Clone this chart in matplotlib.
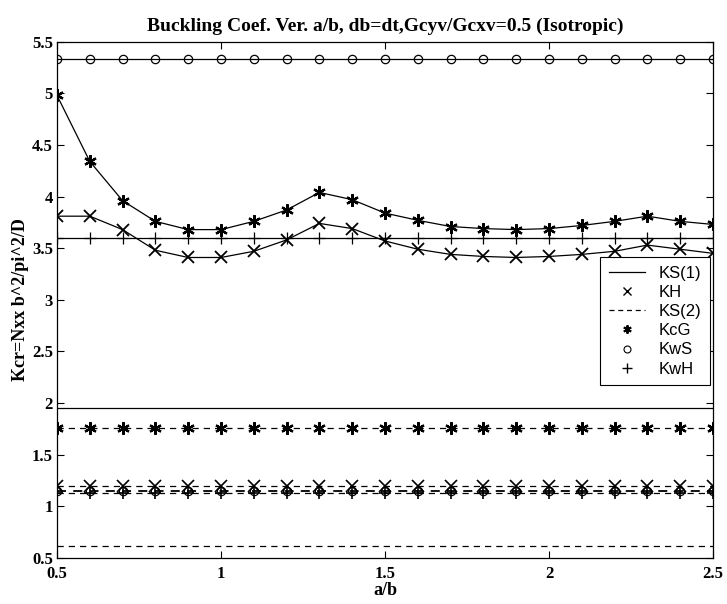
import numpy as np
import matplotlib
matplotlib.use("Agg")
import matplotlib.pyplot as plt
from matplotlib.lines import Line2D

# a/b ratios
ab = [0.5, 0.6, 0.7, 0.8, 0.9, 1.0, 1.1, 1.2, 1.3, 1.4, 1.5,
      1.6, 1.7, 1.8, 1.9, 2.0, 2.1, 2.2, 2.3, 2.4, 2.5]

# case 1 (solid lines)
kcg_1 = [4.98, 4.34, 3.96, 3.76, 3.68, 3.68, 3.76, 3.87, 4.04, 3.97, 3.84,
         3.77, 3.71, 3.69, 3.68, 3.69, 3.72, 3.76, 3.81, 3.76, 3.73]
kh_1 = [3.81, 3.81, 3.68, 3.48, 3.41, 3.41, 3.47, 3.58, 3.74, 3.69, 3.57,
        3.49, 3.44, 3.42, 3.41, 3.42, 3.44, 3.47, 3.53, 3.49, 3.45]
kws_1 = 5.33
kwh_1 = 3.60
ks_1 = 1.95

# case 2 (dashed lines)
kcg_2 = 1.76
kh_2 = 1.20
kws_2 = 1.145
kwh_2 = 1.13
ks_2 = 0.62

legend_labels = ['KS(1)', 'KH', 'KS(2)', 'KcG', 'KwS', 'KwH']

serif = 'Liberation Serif'
asterisk = (6, 2, 0)

fig = plt.figure(figsize=(7.27, 6.04), dpi=100)
ax = fig.add_axes([0.0784, 0.0762, 0.9023, 0.8548])

x = np.array(ab)
lw = 0.9
mk = dict(color='black', markerfacecolor='none', markeredgecolor='black')

# solid group
ax.plot(x, np.full_like(x, kws_1), '-', marker='o', ms=6, lw=lw, mew=0.9, **mk)
ax.plot(x, kcg_1, '-', marker=asterisk, ms=9, lw=lw, mew=1.6, **mk)
ax.plot(x, kh_1, '-', marker='x', ms=8, lw=lw, mew=1.3, **mk)
ax.plot(x, np.full_like(x, kwh_1), '-', marker='+', ms=8, lw=lw, mew=0.9, **mk)
ax.plot(x, np.full_like(x, ks_1), '-', lw=lw, color='black')

# dashed group
dash = (0, (5, 4))
ax.plot(x, np.full_like(x, kcg_2), linestyle=dash, marker=asterisk, ms=9, lw=lw, mew=1.6, **mk)
ax.plot(x, np.full_like(x, kh_2), linestyle=dash, marker='x', ms=8, lw=lw, mew=1.2, **mk)
ax.plot(x, np.full_like(x, kws_2), linestyle=dash, marker='o', ms=6, lw=1.3, mew=0.9, **mk)
ax.plot(x, np.full_like(x, kwh_2), linestyle=dash, marker='+', ms=8, lw=lw, mew=1.2, **mk)
ax.plot(x, np.full_like(x, ks_2), linestyle=dash, lw=lw, color='black')

ax.set_xlim(0.5, 2.5)
ax.set_ylim(0.5, 5.5)
ax.set_xticks([0.5, 1, 1.5, 2, 2.5])
ax.set_xticklabels(['0.5', '1', '1.5', '2', '2.5'])
ax.set_yticks([0.5, 1, 1.5, 2, 2.5, 3, 3.5, 4, 4.5, 5, 5.5])
ax.set_yticklabels(['0.5', '1', '1.5', '2', '2.5', '3', '3.5', '4', '4.5', '5', '5.5'])
ax.tick_params(direction='in', top=True, right=True, length=5, width=0.8,
               labelsize=12, pad=3)
ax.tick_params(axis='x', pad=6)
for lab in ax.get_xticklabels() + ax.get_yticklabels():
    lab.set_fontfamily(serif)
    lab.set_fontweight('bold')
for s in ax.spines.values():
    s.set_linewidth(0.9)

ax.set_title('Buckling Coef. Ver. a/b, db=dt,Gcyv/Gcxv=0.5 (Isotropic)',
             fontfamily=serif, fontweight='bold', fontsize=14, pad=8)
ax.set_xlabel('a/b', fontfamily=serif, fontweight='bold', fontsize=13, labelpad=0)
ax.set_ylabel('Kcr=Nxx b^2/pi^2/D', fontfamily=serif, fontweight='bold',
              fontsize=13, labelpad=2)

handles = [
    Line2D([], [], color='black', lw=lw, linestyle='-'),
    Line2D([], [], color='black', lw=0, marker='x', ms=6, mew=1.0),
    Line2D([], [], color='black', lw=lw, linestyle=(0, (4, 3))),
    Line2D([], [], color='black', lw=0, marker=asterisk, ms=6, mew=1.4),
    Line2D([], [], color='black', lw=0, marker='o', ms=5, mfc='none', mew=0.8),
    Line2D([], [], color='black', lw=0, marker='+', ms=7, mew=1.0),
]
leg = ax.legend(handles, legend_labels, loc='upper right',
                bbox_to_anchor=(0.995, 0.582), borderaxespad=0,
                fancybox=False, framealpha=1, edgecolor='black',
                handlelength=2.2, handletextpad=0.8, labelspacing=0.25,
                borderpad=0.5, prop={'family': 'Liberation Sans', 'size': 12})
leg.get_frame().set_linewidth(0.8)

fig.savefig('out.png', dpi=100)
